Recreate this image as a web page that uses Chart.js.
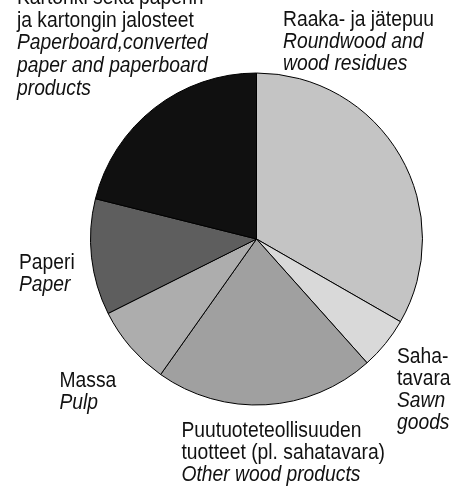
<!DOCTYPE html>
<html>
<head>
<meta charset="utf-8">
<script src="https://cdn.jsdelivr.net/npm/chart.js@4/dist/chart.umd.min.js"></script>
<style>
  html, body { margin: 0; padding: 0; background: #ffffff; }
  #wrap { width: 458px; height: 491px; }
</style>
</head>
<body>
<div id="wrap"><canvas id="c" width="458" height="491"></canvas></div>
<script>
// ---- data ----
const categories = [
  "Raaka- ja jätepuu / Roundwood and wood residues",
  "Sahatavara / Sawn goods",
  "Puutuoteteollisuuden tuotteet (pl. sahatavara) / Other wood products",
  "Massa / Pulp",
  "Paperi / Paper",
  "Kartonki sekä paperin ja kartongin jalosteet / Paperboard, converted paper and paperboard products"
];
const shares = [33.3, 5.1, 21.4, 7.8, 11.3, 21.1];
const labelFi = [
  ["Raaka- ja jätepuu"],
  ["Saha-", "tavara"],
  ["Puutuoteteollisuuden", "tuotteet (pl. sahatavara)"],
  ["Massa"],
  ["Paperi"],
  ["Kartonki sekä paperin", "ja kartongin jalosteet"]
];
const labelEn = [
  ["Roundwood and", "wood residues"],
  ["Sawn", "goods"],
  ["Other wood products"],
  ["Pulp"],
  ["Paper"],
  ["Paperboard,converted", "paper and paperboard", "products"]
];

// ---- layout / styles ----
const sliceColors = ["#c4c4c4", "#d9d9d9", "#a0a0a0", "#adadad", "#5e5e5e", "#101010"];
const labelPos = [
  {x: 283, y: 26, lh: 22},
  {x: 397, y: 362.5, lh: 22.3},
  {x: 181.5, y: 436.7, lh: 22},
  {x: 59.5, y: 386.7, lh: 22.3},
  {x: 19, y: 269.3, lh: 21.5},
  {x: 17, y: 3.8, lh: 22.7}
];

const labelPlugin = {
  id: 'blockLabels',
  afterDraw(chart) {
    const ctx = chart.ctx;
    ctx.save();
    ctx.fillStyle = '#111111';
    ctx.textBaseline = 'alphabetic';
    ctx.textAlign = 'left';
    labelPos.forEach((p, i) => {
      const lines = labelFi[i].map(t => ({t, it: false})).concat(labelEn[i].map(t => ({t, it: true})));
      lines.forEach((ln, k) => {
        ctx.save();
        ctx.translate(p.x, p.y + k * p.lh);
        ctx.scale(0.876, 1);
        ctx.font = (ln.it ? 'italic ' : '') + '22px "Liberation Sans", Arial, sans-serif';
        ctx.fillText(ln.t, 0, 0);
        ctx.restore();
      });
    });
    ctx.restore();
  }
};

new Chart(document.getElementById('c'), {
  type: 'pie',
  data: {
    labels: categories,
    datasets: [{
      data: shares,
      backgroundColor: sliceColors,
      borderColor: '#000000',
      borderWidth: 1
    }]
  },
  options: {
    responsive: false,
    animation: false,
    radius: 166,
    layout: { padding: { left: 60, right: 5, top: 0, bottom: 13 } },
    plugins: {
      legend: { display: false },
      tooltip: { enabled: false }
    }
  },
  plugins: [labelPlugin]
});
</script>
</body>
</html>
